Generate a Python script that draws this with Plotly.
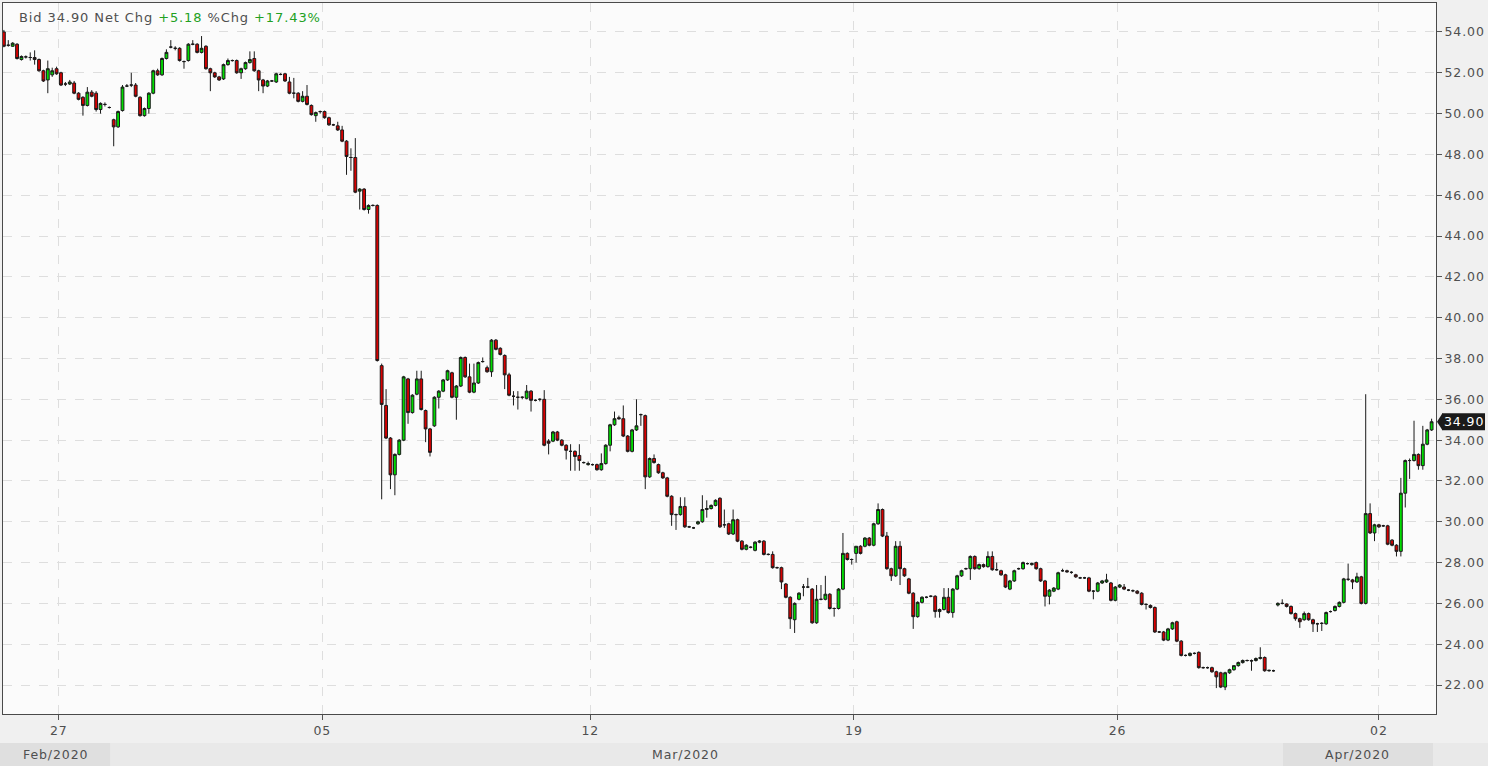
import plotly.graph_objects as go

# ---------------- data ----------------
open_ = [
    54.00, 53.35, 53.30, 53.40, 52.65, 52.78, 52.75, 52.75, 52.65, 52.10,
    51.65, 51.90, 52.20, 52.00, 51.45, 51.45, 51.50, 51.00, 50.80, 50.40,
    51.05, 51.00, 50.20, 50.45, 50.30, 49.70, 49.35, 50.15, 51.35, 51.40,
    51.40, 50.80, 49.90, 50.25, 51.00, 52.10, 51.90, 52.70, 53.26, 53.20,
    53.20, 52.55, 52.60, 53.40, 53.40, 53.00, 53.30, 52.20, 52.00, 51.80,
    51.70, 52.40, 52.60, 52.60, 52.00, 52.20, 52.50, 52.70, 52.10, 51.65,
    51.35, 51.60, 51.55, 51.92, 51.95, 51.55, 51.00, 51.00, 50.60, 50.85,
    50.40, 49.90, 50.10, 50.10, 49.80, 49.45, 49.40, 49.20, 48.65, 47.85,
    47.85, 46.20, 46.30, 45.30, 45.50, 45.50, 37.65, 35.70, 34.10, 32.30,
    33.30, 34.00, 37.00, 35.35, 36.25, 37.00, 35.45, 34.55, 34.70, 36.10,
    36.40, 36.95, 37.30, 36.10, 36.65, 38.05, 37.10, 36.35, 36.80, 37.85,
    37.55, 37.35, 38.90, 38.50, 38.15, 37.20, 36.15, 36.10, 36.10, 36.05,
    36.40, 35.95, 36.00, 36.00, 33.95, 33.95, 34.40, 34.00, 33.75, 33.45,
    33.45, 33.25, 32.90, 32.80, 32.80, 32.80, 32.55, 32.85, 33.75, 34.75,
    35.10, 35.05, 34.20, 33.45, 34.50, 35.25, 35.20, 32.20, 33.10, 32.80,
    32.40, 32.15, 31.25, 30.35, 30.35, 30.75, 29.75, 29.70, 29.90, 30.00,
    30.60, 30.65, 30.80, 31.15, 29.85, 29.90, 29.40, 30.10, 29.05, 28.65,
    28.75, 28.60, 29.00, 29.05, 28.40, 28.40, 27.75, 27.75, 26.95, 26.30,
    25.20, 26.20, 26.80, 26.80, 26.70, 25.05, 26.20, 26.20, 26.45, 25.75,
    25.75, 26.70, 28.45, 28.15, 28.45, 28.80, 28.80, 29.20, 28.85, 29.90,
    30.60, 29.30, 27.70, 27.35, 28.80, 27.70, 27.20, 26.50, 25.35, 26.05,
    26.30, 26.35, 26.35, 25.60, 25.70, 26.30, 25.55, 26.70, 27.35, 27.70,
    27.70, 28.30, 27.70, 27.90, 27.80, 28.30, 27.65, 27.60, 27.40, 26.70,
    27.10, 27.70, 27.70, 27.95, 27.90, 28.00, 27.70, 27.10, 26.35, 26.60,
    26.70, 27.60, 27.60, 27.52, 27.40, 27.25, 27.25, 27.25, 26.60, 26.60,
    27.00, 27.05, 27.00, 26.15, 26.80, 26.80, 26.65, 26.62, 26.60, 26.50,
    25.95, 25.90, 25.80, 24.60, 24.60, 24.20, 24.75, 25.10, 24.15, 23.45,
    23.45, 23.55, 23.60, 22.85, 22.85, 22.85, 22.65, 22.60, 21.90, 22.60,
    22.75, 22.95, 23.10, 23.20, 23.20, 23.20, 23.30, 23.35, 22.70, 22.70,
    25.92, 26.00, 25.97, 25.85, 25.50, 25.25, 25.20, 25.50, 25.20, 25.00,
    25.02, 25.00, 25.60, 25.65, 25.85, 26.05, 27.18, 27.15, 27.05, 27.30,
    26.00, 30.40, 29.45, 29.85, 29.80, 29.80, 29.10, 28.85, 28.55, 31.40,
    33.00, 33.00, 33.30, 32.75, 33.80, 34.50,
]
high = [
    54.10, 53.60, 53.50, 53.45, 52.85, 52.85, 53.00, 53.10, 52.70, 52.15,
    52.60, 52.25, 52.30, 52.05, 51.55, 51.65, 51.60, 51.05, 50.85, 51.30,
    51.15, 51.10, 50.55, 50.55, 50.35, 49.75, 50.15, 51.40, 51.45, 52.00,
    51.50, 50.85, 50.30, 51.05, 52.15, 52.20, 52.75, 53.15, 53.60, 53.30,
    53.25, 52.60, 53.45, 53.60, 53.45, 53.80, 53.35, 52.25, 52.05, 51.85,
    52.45, 52.70, 52.65, 52.65, 52.25, 52.55, 53.05, 53.05, 52.15, 51.70,
    51.65, 51.65, 52.00, 51.98, 52.00, 51.80, 51.75, 51.05, 51.10, 51.40,
    50.45, 50.10, 50.15, 50.15, 49.85, 49.50, 49.60, 49.40, 48.70, 48.30,
    48.80, 46.35, 46.35, 45.55, 45.55, 45.55, 37.75, 36.50, 34.15, 33.35,
    34.05, 37.15, 37.05, 36.25, 37.40, 37.40, 35.50, 34.60, 36.15, 36.45,
    37.00, 37.45, 37.35, 36.70, 38.10, 38.10, 37.75, 37.75, 37.85, 38.05,
    37.65, 38.95, 38.95, 38.55, 38.20, 37.30, 36.40, 36.40, 36.15, 36.70,
    36.45, 36.00, 36.05, 36.45, 34.05, 34.45, 34.45, 34.05, 33.80, 33.80,
    33.50, 33.80, 32.95, 32.95, 32.85, 32.85, 33.35, 33.80, 34.80, 35.40,
    35.20, 35.70, 34.25, 34.55, 36.00, 35.30, 35.25, 33.15, 33.30, 32.85,
    32.45, 32.20, 31.30, 30.40, 31.20, 31.20, 29.80, 29.75, 30.05, 31.30,
    31.05, 30.85, 31.10, 31.20, 30.60, 29.95, 30.60, 30.15, 29.10, 28.90,
    28.80, 29.05, 29.10, 29.10, 28.45, 28.55, 27.80, 27.80, 27.00, 26.35,
    26.05, 26.55, 26.95, 27.25, 26.75, 26.90, 26.90, 27.35, 26.50, 25.80,
    26.75, 29.45, 28.50, 28.20, 28.80, 28.85, 29.25, 29.25, 29.95, 30.90,
    30.65, 29.50, 27.75, 29.05, 29.05, 27.75, 27.25, 26.55, 26.10, 26.35,
    26.35, 26.40, 26.40, 25.75, 26.75, 26.75, 26.75, 27.40, 27.65, 27.75,
    28.35, 28.35, 27.95, 27.95, 28.55, 28.55, 28.00, 27.65, 27.45, 27.15,
    27.65, 27.75, 28.05, 28.00, 28.00, 28.05, 27.75, 27.15, 26.70, 26.80,
    27.55, 27.70, 27.65, 27.58, 27.45, 27.30, 27.30, 27.30, 26.65, 27.05,
    27.15, 27.45, 27.05, 26.85, 26.95, 26.95, 26.70, 26.68, 26.65, 26.55,
    26.00, 25.95, 25.85, 24.65, 24.65, 24.80, 25.10, 25.15, 24.20, 23.50,
    23.60, 23.60, 23.65, 22.90, 22.90, 22.90, 22.70, 22.65, 22.65, 22.80,
    22.95, 23.15, 23.25, 23.25, 23.25, 23.35, 23.85, 23.40, 22.75, 22.75,
    26.05, 26.20, 26.00, 25.90, 25.55, 25.30, 25.60, 25.55, 25.25, 25.05,
    25.08, 25.60, 25.65, 25.90, 26.10, 27.25, 27.95, 27.20, 27.50, 27.35,
    36.25, 30.90, 29.90, 29.90, 29.85, 29.85, 29.15, 28.90, 32.15, 33.05,
    33.10, 34.95, 33.35, 34.70, 34.55, 35.05,
]
low = [
    53.25, 53.28, 53.28, 52.65, 52.60, 52.70, 52.60, 52.40, 52.05, 51.55,
    51.00, 51.80, 51.90, 51.35, 51.35, 51.40, 50.95, 50.65, 49.90, 50.35,
    50.80, 50.10, 50.00, 50.35, 50.25, 48.40, 49.30, 50.10, 51.30, 51.30,
    50.80, 49.85, 49.85, 50.00, 50.95, 51.85, 51.85, 52.65, 53.20, 53.10,
    52.55, 52.20, 52.55, 53.35, 52.95, 52.95, 52.15, 51.10, 51.75, 51.60,
    51.65, 52.35, 52.55, 51.95, 51.70, 52.15, 52.45, 52.05, 51.10, 51.00,
    51.30, 51.55, 51.50, 51.88, 51.55, 50.95, 50.75, 50.55, 50.55, 50.40,
    49.90, 49.60, 50.00, 49.75, 49.40, 49.40, 49.15, 48.60, 47.00, 47.20,
    46.10, 45.30, 45.25, 45.10, 45.45, 37.85, 31.10, 34.05, 31.60, 31.30,
    33.25, 33.95, 34.80, 35.30, 36.20, 35.45, 33.90, 33.20, 34.65, 35.55,
    36.35, 36.90, 36.05, 35.00, 36.60, 37.05, 36.30, 36.30, 36.75, 37.80,
    37.30, 37.10, 38.40, 38.15, 36.50, 36.15, 35.70, 35.50, 36.00, 36.00,
    35.40, 35.90, 35.90, 33.70, 33.30, 33.90, 33.95, 33.70, 33.05, 32.50,
    32.50, 32.50, 32.85, 32.75, 32.75, 32.50, 32.50, 32.80, 33.45, 34.70,
    35.00, 34.15, 33.40, 33.40, 34.45, 34.70, 31.60, 32.15, 32.85, 32.35,
    32.10, 31.20, 29.80, 29.60, 30.30, 29.70, 29.70, 29.65, 29.85, 29.95,
    30.20, 30.60, 30.75, 29.70, 29.70, 29.35, 29.35, 29.00, 28.60, 28.60,
    28.70, 28.55, 28.95, 28.35, 28.35, 27.70, 27.70, 26.70, 26.25, 24.75,
    24.55, 26.15, 26.35, 26.75, 25.00, 25.00, 26.15, 26.15, 25.70, 25.35,
    25.70, 26.65, 28.10, 27.90, 28.00, 28.40, 28.75, 28.80, 28.80, 29.85,
    29.25, 27.65, 27.10, 27.30, 26.90, 27.30, 26.45, 24.75, 25.30, 26.00,
    26.25, 26.30, 25.30, 25.30, 25.65, 25.50, 25.30, 26.65, 27.30, 27.65,
    27.15, 27.65, 27.65, 27.75, 27.75, 27.60, 27.60, 27.35, 26.75, 26.65,
    27.05, 27.65, 27.65, 27.90, 27.85, 27.65, 27.05, 25.85, 25.95, 26.55,
    26.65, 27.55, 27.50, 27.45, 27.25, 27.20, 27.20, 26.55, 26.20, 26.55,
    26.95, 27.00, 26.10, 26.10, 26.75, 26.65, 26.60, 26.55, 26.45, 25.90,
    25.70, 25.75, 24.55, 24.55, 24.15, 24.15, 24.70, 24.10, 23.40, 23.40,
    23.40, 23.50, 22.80, 22.80, 22.80, 22.60, 21.85, 21.85, 21.75, 22.55,
    22.70, 22.90, 23.05, 23.15, 22.70, 23.15, 23.25, 22.65, 22.65, 22.65,
    25.85, 25.95, 25.80, 25.45, 25.15, 24.80, 25.15, 25.15, 24.60, 24.60,
    24.65, 24.95, 25.55, 25.60, 25.80, 26.00, 27.10, 26.70, 27.00, 25.95,
    25.95, 29.40, 29.05, 29.70, 29.75, 28.85, 28.80, 28.30, 28.30, 30.70,
    32.10, 32.95, 32.55, 32.55, 33.75, 34.45,
]
close = [
    53.30, 53.35, 53.45, 52.70, 52.80, 52.78, 52.75, 52.65, 52.10, 51.60,
    52.20, 52.10, 51.95, 51.40, 51.45, 51.55, 51.00, 50.70, 50.40, 51.05,
    50.85, 50.20, 50.50, 50.45, 50.30, 49.35, 50.10, 51.30, 51.35, 51.40,
    50.85, 49.90, 50.25, 51.00, 52.10, 51.90, 52.70, 53.00, 53.26, 53.20,
    52.60, 52.55, 53.40, 53.40, 53.00, 53.20, 52.20, 52.00, 51.80, 51.65,
    52.40, 52.60, 52.60, 52.00, 52.20, 52.50, 52.65, 52.10, 51.65, 51.35,
    51.60, 51.60, 51.95, 51.92, 51.60, 51.00, 51.00, 50.60, 50.85, 50.45,
    49.95, 50.05, 50.10, 49.80, 49.45, 49.45, 49.20, 48.65, 47.90, 47.85,
    46.15, 46.30, 45.30, 45.50, 45.50, 37.90, 35.75, 34.10, 32.30, 33.30,
    34.00, 37.10, 35.35, 36.20, 37.00, 35.50, 34.55, 33.40, 36.10, 36.40,
    36.95, 37.40, 36.10, 36.65, 38.05, 37.10, 36.35, 36.80, 37.80, 37.85,
    37.35, 38.90, 38.45, 38.20, 37.20, 36.20, 36.15, 36.10, 36.10, 36.40,
    35.95, 35.95, 36.00, 33.75, 33.85, 34.40, 34.00, 33.75, 33.50, 33.45,
    33.20, 33.00, 32.90, 32.85, 32.80, 32.55, 32.85, 33.75, 34.75, 35.05,
    35.05, 34.20, 33.45, 34.50, 34.70, 35.25, 32.20, 33.10, 32.90, 32.40,
    32.15, 31.25, 30.35, 30.35, 30.75, 29.75, 29.75, 29.70, 30.00, 30.60,
    30.65, 30.80, 31.05, 29.75, 29.85, 29.40, 30.10, 29.05, 28.65, 28.85,
    28.75, 29.00, 29.05, 28.40, 28.40, 27.75, 27.75, 27.05, 26.30, 25.25,
    26.00, 26.50, 26.80, 26.80, 25.05, 26.20, 26.20, 26.45, 25.75, 25.75,
    26.70, 28.45, 28.15, 28.15, 28.80, 28.45, 29.20, 28.85, 29.90, 30.60,
    29.30, 27.70, 27.35, 28.80, 27.70, 27.35, 26.50, 25.35, 26.05, 26.30,
    26.30, 26.35, 25.60, 25.70, 26.30, 25.55, 26.70, 27.35, 27.60, 27.70,
    28.30, 27.70, 27.90, 27.80, 28.30, 27.65, 27.65, 27.40, 26.80, 27.10,
    27.60, 27.70, 28.00, 27.95, 27.95, 27.70, 27.10, 26.35, 26.65, 26.75,
    27.50, 27.60, 27.55, 27.52, 27.30, 27.25, 27.25, 26.60, 26.60, 27.00,
    27.10, 27.15, 26.15, 26.80, 26.90, 26.70, 26.65, 26.62, 26.50, 25.95,
    25.95, 25.80, 24.60, 24.60, 24.20, 24.75, 25.05, 24.15, 23.45, 23.45,
    23.55, 23.55, 22.85, 22.85, 22.85, 22.65, 22.40, 21.90, 22.60, 22.75,
    22.95, 23.10, 23.20, 23.20, 23.18, 23.30, 23.35, 22.70, 22.72, 22.70,
    26.00, 26.00, 25.85, 25.50, 25.25, 25.10, 25.50, 25.20, 25.00, 25.00,
    25.02, 25.55, 25.60, 25.85, 26.05, 27.20, 27.18, 27.05, 27.30, 26.00,
    30.40, 29.45, 29.85, 29.75, 29.80, 28.90, 28.85, 28.55, 31.40, 33.00,
    33.00, 33.30, 32.75, 33.80, 34.50, 34.90,
]

# bar index at which each labelled day begins, with its label
day_tick_index = [12.5, 72.5, 133.5, 193.5, 253.5, 313]
day_tick_label = ["27", "05", "12", "19", "26", "02"]
month_labels = ["Feb/2020", "Mar/2020", "Apr/2020"]

bid = 34.90
net_chg = 5.18
pct_chg = 17.43

FONT = "DejaVu Sans"
GRAY = "#4f4f4f"
GREEN = "#22a022"
FS = 12.5
LS = "letter-spacing:0.9px"

x = list(range(len(close)))

fig = go.Figure()
fig.add_trace(go.Candlestick(
    x=x, open=open_, high=high, low=low, close=close,
    increasing=dict(fillcolor="#00dd00", line=dict(color="#1a1a1a", width=1)),
    decreasing=dict(fillcolor="#d80000", line=dict(color="#1a1a1a", width=1)),
    whiskerwidth=0,
    showlegend=False,
    hoverinfo="skip",
))

fig.update_layout(
    width=1488, height=766,
    margin=dict(l=3, r=52, t=3, b=52),
    paper_bgcolor="#f0f0f0",
    plot_bgcolor="#fbfbfb",
    boxgap=0.08,
    font=dict(family=FONT, size=FS, color=GRAY),
    showlegend=False,
)
fig.update_xaxes(
    range=[-0.2, 326.0],
    rangeslider=dict(visible=False),
    tickmode="array", tickvals=day_tick_index, ticktext=day_tick_label,
    ticks="outside", ticklen=5, tickcolor="#555555",
    showgrid=True, gridcolor="#dedede", griddash="dash", gridwidth=1,
    showline=True, linecolor="#4a4a4a", linewidth=1, mirror=True,
    zeroline=False,
    tickfont=dict(family=FONT, size=FS, color=GRAY),
)
fig.update_yaxes(
    side="right",
    range=[20.58, 55.42],
    tickmode="linear", tick0=22, dtick=2, tickformat=".2f",
    ticks="outside", ticklen=5, tickcolor="#555555",
    showgrid=True, gridcolor="#dedede", griddash="dash", gridwidth=1,
    showline=True, linecolor="#4a4a4a", linewidth=1, mirror=True,
    zeroline=False,
    tickfont=dict(family=FONT, size=FS, color=GRAY),
)

# bottom month band
fig.add_shape(type="rect", xref="paper", yref="paper",
              x0=-0.01, x1=1.04, y0=-0.0408, y1=-0.08,
              fillcolor="#e9e9e9", line=dict(width=0), layer="below")
fig.add_shape(type="rect", xref="paper", yref="paper",
              x0=-0.01, x1=0.0747, y0=-0.0408, y1=-0.08,
              fillcolor="#dfdfdf", line=dict(width=0), layer="below")
fig.add_shape(type="rect", xref="paper", yref="paper",
              x0=0.8932, x1=0.9979, y0=-0.0408, y1=-0.08,
              fillcolor="#dfdfdf", line=dict(width=0), layer="below")
for label, xp in zip(month_labels, [0.0363, 0.4766, 0.9455]):
    fig.add_annotation(text=f"<span style='{LS}'>{label}</span>",
                       xref="paper", yref="paper", x=xp, y=-0.0565,
                       showarrow=False, xanchor="center", yanchor="middle",
                       font=dict(family=FONT, size=FS, color=GRAY))

# header text
fig.add_annotation(
    xref="paper", yref="paper", x=0.0098, y=0.980, xanchor="left", yanchor="middle",
    showarrow=False,
    text=(f"<span style='color:{GRAY};{LS}'>Bid {bid:.2f} Net Chg </span>"
          f"<span style='color:{GREEN};{LS}'>+{net_chg:.2f} </span>"
          f"<span style='color:{GRAY};{LS}'>%Chg </span>"
          f"<span style='color:{GREEN};{LS}'>+{pct_chg:.2f}%</span>"),
    font=dict(family=FONT, size=13),
)

# last price tag (pointer + box + text)
fig.add_shape(type="path", xref="paper", yref="y",
              path=f"M 1.0007,{bid} L 1.0045,{bid + 0.42} L 1.0045,{bid - 0.42} Z",
              fillcolor="#1a1a1a", line=dict(width=0))
fig.add_shape(type="rect", xref="paper", yref="y",
              x0=1.0042, x1=1.0342, y0=bid - 0.42, y1=bid + 0.42,
              fillcolor="#1a1a1a", line=dict(width=0))
fig.add_annotation(
    xref="paper", yref="y", x=1.0192, y=bid, xanchor="center", yanchor="middle",
    showarrow=False, text=f"<span style='{LS}'>{bid:.2f}</span>",
    font=dict(family=FONT, size=FS, color="white"),
)

post = (
    "document.body.style.margin='0';"
    "document.querySelectorAll('.xtick text, .ytick text').forEach(function(t){"
    "t.style.letterSpacing='0.9px';});"
)
fig.write_html("out.html", post_script=post, config={"displayModeBar": False})
